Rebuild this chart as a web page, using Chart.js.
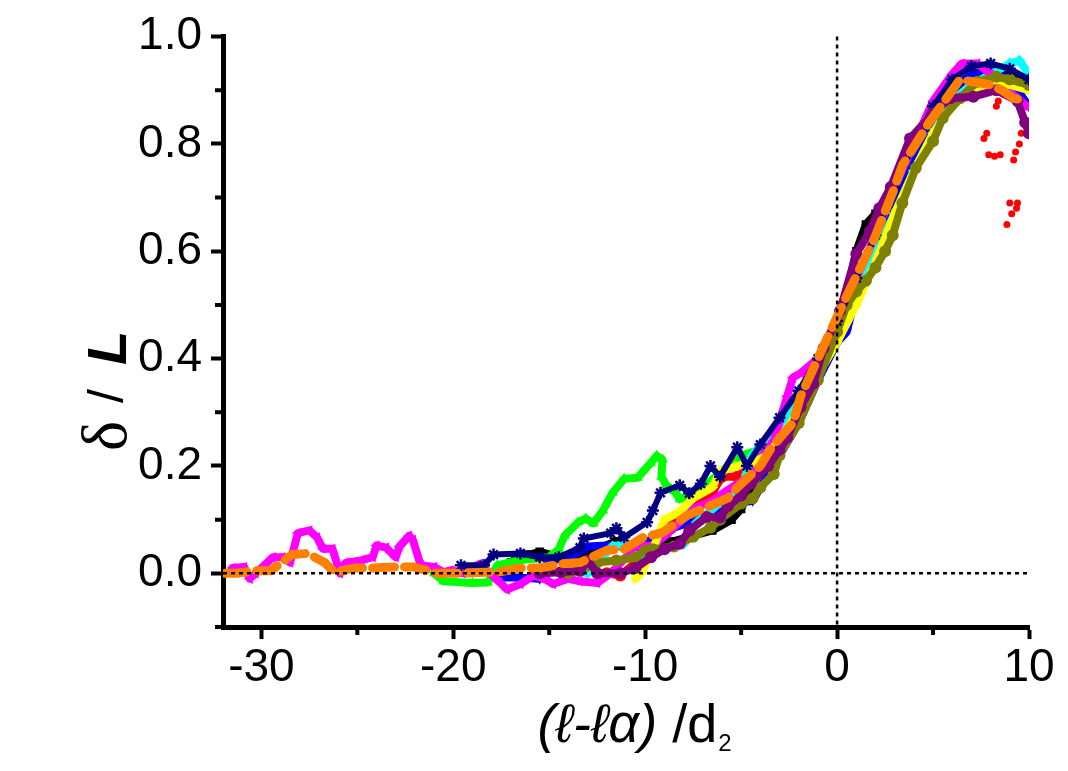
<!DOCTYPE html>
<html><head><meta charset="utf-8">
<script src="https://cdn.jsdelivr.net/npm/chart.js@4"></script>
<style>html,body{margin:0;padding:0;background:#fff;}canvas{display:block}</style>
</head><body>
<canvas id="c" width="1068" height="771" style="width:1068px;height:771px"></canvas>
<script>
// ---- axis / tick data ----
const xMin = -32, xMax = 10, yMin = -0.1, yMax = 1.0;
const xTicks = [-30, -20, -10, 0, 10];
const xMinorTicks = [-25, -15, -5, 5];
const yTicks = [0.0, 0.2, 0.4, 0.6, 0.8, 1.0];
const yMinorTicks = [-0.1, 0.1, 0.3, 0.5, 0.7, 0.9];
const refLineY = 0, refLineX = 0;

// ---- series values [x, y] ----
const blackPts = [[-17.5,0.0],[-17,0.02],[-16.5,0.035],[-16,0.035],[-15.5,0.04],[-14.5,0.03],[-13.5,0.035],[-12.5,0.045],[-11.5,0.06],[-10.5,0.05],[-9.5,0.06],[-8.5,0.06],[-7.5,0.07],[-6.5,0.08],[-5.5,0.1],[-5,0.12],[-4.5,0.16],[-4,0.19],[-3,0.24],[-2,0.3],[-1,0.37],[0,0.46],[0.5,0.52],[1,0.6],[1.5,0.65],[2,0.67],[3,0.72],[4,0.79],[5,0.85],[6,0.9],[7,0.93],[8,0.94],[9,0.93],[10,0.91]];
const redPts = [[-12,0.0],[-11.3,-0.004],[-10.5,0.02],[-9.5,0.06],[-8.5,0.095],[-7.5,0.12],[-6.5,0.15],[-6,0.18],[-5.2,0.18],[-4.5,0.2],[-4,0.22],[-3,0.26],[-2,0.32],[-1,0.39],[0,0.46],[1,0.54],[2,0.62],[3,0.7],[4,0.78],[5,0.85],[6,0.9],[7,0.93],[7.5,0.92]];
const redTailPts = [[8.4,0.88],[8.3,0.87],[7.8,0.82],[7.65,0.81],[7.9,0.78],[8.2,0.777],[8.5,0.78],[9.3,0.785],[9.2,0.77],[9.5,0.8],[9.6,0.82],[9.0,0.69],[9.4,0.69],[9.35,0.68],[9.1,0.67],[8.85,0.65]];
const greenPts = [[-21,0.0],[-20.5,-0.015],[-19,-0.018],[-18.2,-0.017],[-17.7,0.015],[-16.5,0.025],[-15,0.03],[-14.5,0.045],[-14.2,0.07],[-13.5,0.095],[-13.1,0.102],[-12.7,0.093],[-12.2,0.117],[-11.7,0.15],[-11.1,0.176],[-10.4,0.178],[-9.7,0.206],[-9.4,0.219],[-9.1,0.212],[-9.15,0.18],[-8.9,0.164],[-8.5,0.154],[-8.2,0.138],[-7.8,0.145],[-7,0.16],[-6,0.19],[-5,0.22],[-4,0.23],[-3,0.27],[-2,0.32],[-1,0.38],[0,0.44],[0.5,0.47],[1,0.52],[2,0.6],[3,0.68],[4,0.76],[5,0.83],[6,0.88],[7,0.9],[8,0.92],[9,0.91],[10,0.9]];
const bluePts = [[-17.7,-0.008],[-16.5,-0.008],[-15.5,-0.01],[-15,0.025],[-14,0.028],[-13,0.05],[-12,0.052],[-11,0.05],[-10,0.06],[-9.2,0.065],[-8.5,0.085],[-7,0.104],[-6,0.115],[-5.4,0.13],[-4.4,0.135],[-4,0.16],[-3,0.22],[-2,0.28],[-1,0.36],[0,0.43],[0.5,0.45],[1,0.52],[2,0.6],[3,0.69],[4,0.77],[5,0.85],[6,0.9],[7,0.93],[8,0.935],[9,0.92],[10,0.87]];
const cyanPts = [[-13.5,0.005],[-13,0.0],[-12.5,0.02],[-11.7,0.05],[-11,0.055],[-10.6,0.03],[-10,0.035],[-9,0.045],[-8,0.055],[-7.3,0.095],[-6.5,0.12],[-5.5,0.148],[-5,0.16],[-4.4,0.22],[-4,0.24],[-3,0.27],[-2,0.32],[-1,0.39],[0,0.45],[1,0.53],[2,0.6],[3,0.67],[4,0.75],[5,0.82],[6,0.88],[7,0.91],[8,0.93],[9,0.95],[9.5,0.955],[10,0.93]];
const magentaPts = [[-31.5,0.01],[-30.9,0.012],[-30.6,-0.01],[-30.3,0.0],[-29.4,0.03],[-28.9,0.03],[-28.5,0.02],[-28.1,0.075],[-27.5,0.08],[-27.1,0.067],[-26.8,0.046],[-26.3,0.046],[-25.9,0.0],[-25.6,0.02],[-24.8,0.024],[-24.2,0.03],[-24.0,0.052],[-23.5,0.048],[-23.0,0.03],[-22.8,0.05],[-22.3,0.07],[-22.1,0.062],[-21.7,0.015],[-21,0.012],[-20.5,0.002],[-20.1,0.006],[-19.5,0.0],[-18.6,0.018],[-18.1,0.0],[-17.6,-0.016],[-17.2,-0.03],[-16.5,-0.02],[-15.8,-0.004],[-15.1,-0.013],[-14.8,-0.02],[-14,-0.01],[-13.4,-0.015],[-12.5,-0.018],[-11.8,0.0],[-11,0.03],[-10.6,0.05],[-9.6,0.052],[-8.8,0.075],[-7.5,0.12],[-6.5,0.135],[-5.7,0.155],[-4.4,0.185],[-4,0.215],[-3.3,0.247],[-2.6,0.33],[-2.3,0.365],[-1.9,0.373],[-1,0.4],[0,0.46],[1,0.55],[2,0.63],[3,0.72],[4,0.8],[5,0.88],[6,0.93],[6.5,0.95],[7.3,0.95],[8,0.93],[8.9,0.9],[9.9,0.87]];
const yellowPts = [[-10.5,-0.01],[-10.2,0.0],[-9.6,0.045],[-9.0,0.1],[-8.2,0.115],[-7.5,0.14],[-6.5,0.16],[-6.1,0.19],[-5.2,0.2],[-4.5,0.205],[-3.6,0.22],[-3,0.25],[-2,0.3],[-1,0.37],[0,0.43],[1,0.5],[2,0.58],[3,0.67],[4,0.75],[5,0.82],[6,0.87],[7,0.9],[8,0.915],[9,0.91],[10,0.9]];
const olivePts = [[-14,0.0],[-13.4,0.005],[-12.5,0.02],[-11.5,0.024],[-10.5,0.03],[-10,0.042],[-9.6,0.045],[-8.5,0.05],[-7.5,0.068],[-6.6,0.085],[-6.1,0.1],[-5,0.13],[-4.4,0.14],[-4,0.16],[-3.3,0.185],[-3,0.22],[-2,0.28],[-1,0.36],[0,0.45],[0.5,0.5],[1,0.525],[1.5,0.545],[2,0.57],[2.5,0.6],[2.9,0.63],[3.4,0.69],[4.1,0.755],[5,0.805],[5.5,0.848],[6.4,0.885],[7.3,0.916],[8.3,0.925],[9,0.92],[10,0.91]];
const navyPts = [[-19.6,0.015],[-18.4,0.015],[-17.9,0.035],[-16.5,0.037],[-15.5,0.03],[-14.5,0.03],[-13.4,0.048],[-13.2,0.065],[-11.8,0.075],[-11.5,0.084],[-11.1,0.067],[-9.9,0.095],[-9.6,0.117],[-9.2,0.15],[-8.2,0.164],[-7.7,0.149],[-7.1,0.167],[-6.6,0.2],[-6.1,0.18],[-5.2,0.235],[-4.7,0.2],[-4,0.24],[-3,0.29],[-2,0.34],[-1,0.4],[0,0.47],[1,0.55],[2,0.63],[3,0.72],[4,0.8],[5,0.87],[6,0.92],[7,0.945],[8,0.95],[9,0.94],[10,0.92]];
const purplePts = [[-15.5,0.0],[-14.4,0.002],[-13.4,0.005],[-13,0.024],[-12.5,0.0],[-11.3,0.0],[-10.5,0.01],[-9.7,0.03],[-9,0.045],[-8.2,0.055],[-7.7,0.08],[-6.8,0.105],[-6.1,0.104],[-5.7,0.125],[-5,0.145],[-4.5,0.167],[-3.6,0.2],[-3,0.23],[-2.6,0.253],[-1.9,0.31],[-1.25,0.353],[-0.7,0.42],[0.15,0.489],[1,0.595],[1.7,0.637],[2.2,0.68],[2.8,0.72],[3.8,0.81],[5,0.857],[5.9,0.885],[7.1,0.888],[8.3,0.9],[9.4,0.88],[9.8,0.84],[10,0.82]];
const orangePts = [[-31.9,0.0],[-31.3,0.0],[-30.3,0.005],[-29.5,0.005],[-28.4,0.035],[-27.6,0.037],[-26.7,0.02],[-26.2,0.002],[-25.1,0.01],[-24.2,0.01],[-22.9,0.012],[-22.1,0.012],[-20.8,0.0],[-19.8,0.0],[-18.4,0.002],[-17.7,0.002],[-16.5,0.01],[-15.5,0.01],[-14.3,0.018],[-13.4,0.02],[-12,0.043],[-11.1,0.045],[-10.1,0.067],[-9.1,0.076],[-7.8,0.108],[-7.0,0.12],[-5.7,0.14],[-5.2,0.16],[-4,0.2],[-3.5,0.23],[-2.8,0.26],[-2.3,0.28],[-1.9,0.33],[-1,0.4],[-0.36,0.45],[0.68,0.53],[1.9,0.62],[2.9,0.71],[3.4,0.76],[4.8,0.84],[6.4,0.92],[8,0.91],[8.6,0.9],[9.2,0.885],[9.9,0.88]];

const toXY = arr => arr.map(p => ({x: p[0], y: p[1]}));

function series(pts, color, style, rot, extra) {
  return Object.assign({
    data: toXY(pts), showLine: true, borderColor: color, backgroundColor: color,
    borderWidth: 8, tension: 0, pointStyle: style, pointRotation: rot || 0,
    pointRadius: 6, pointBorderWidth: 0, pointBackgroundColor: color, pointBorderColor: color,
    borderCapStyle: 'round', borderJoinStyle: 'round'
  }, extra || {});
}

const list = [
  series(blackPts, '#000000', 'rect'),
  series(redPts, '#FF0000', 'circle'),
  series(redTailPts, '#FF0000', 'circle', 0, {showLine: false, pointRadius: 3.5}),
  series(greenPts, '#00FF00', 'triangle'),
  series(bluePts, '#0000FF', 'triangle', 180),
  series(cyanPts, '#00FFFF', 'rectRot'),
  series(magentaPts, '#FF00FF', 'triangle', 270),
  series(yellowPts, '#FFFF00', 'triangle', 90),
  series(olivePts, '#808000', 'circle'),
  series(navyPts, '#000080', 'star', 0, {borderWidth: 6, pointBorderWidth: 2.5, pointRadius: 6}),
  series(purplePts, '#800080', 'circle'),
  series(orangePts, '#FF8000', 'circle', 0, {borderWidth: 9, pointRadius: 0, borderDash: [22, 10]})
];
list.forEach((d, i) => { d.order = list.length - i; });

const overlay = {
  id: 'overlay',
  afterDatasetsDraw(chart) {
    const ctx = chart.ctx, xs = chart.scales.x, ys = chart.scales.y;
    ctx.save();
    ctx.strokeStyle = '#000'; ctx.lineWidth = 2.5; ctx.setLineDash([4, 4]);
    ctx.beginPath();
    ctx.moveTo(xs.getPixelForValue(xMin), ys.getPixelForValue(refLineY));
    ctx.lineTo(xs.getPixelForValue(xMax), ys.getPixelForValue(refLineY));
    ctx.moveTo(xs.getPixelForValue(refLineX), ys.getPixelForValue(yMax));
    ctx.lineTo(xs.getPixelForValue(refLineX), ys.getPixelForValue(yMin));
    ctx.stroke();
    ctx.restore();
  },
  afterDraw(chart) {
    const ctx = chart.ctx, xs = chart.scales.x, ys = chart.scales.y, a = chart.chartArea;
    ctx.save();
    ctx.strokeStyle = '#000'; ctx.lineWidth = 4;
    ctx.beginPath();
    xMinorTicks.forEach(v => { const p = xs.getPixelForValue(v); ctx.moveTo(p, a.bottom); ctx.lineTo(p, a.bottom + 8); });
    yMinorTicks.forEach(v => { const p = ys.getPixelForValue(v); ctx.moveTo(a.left, p); ctx.lineTo(a.left - 8, p); });
    ctx.stroke();
    ctx.fillStyle = '#000';
    // y title
    ctx.save();
    ctx.translate(126, 0);
    ctx.rotate(-Math.PI / 2);
    ctx.textAlign = 'center'; ctx.textBaseline = 'alphabetic';
    ctx.font = "64px 'Liberation Serif'";
    ctx.fillText('δ', -436, 0);
    ctx.font = "50px 'Liberation Sans'";
    ctx.fillText('/', -396, -3);
    ctx.font = "bold italic 56px 'Liberation Sans'";
    ctx.fillText('L', -348, 0);
    ctx.restore();
    // x title
    ctx.textBaseline = 'alphabetic'; ctx.textAlign = 'left';
    const part1 = '(ℓ-ℓα)', part2 = ' /d', sub = '2';
    const f1 = "italic 54px 'Liberation Sans'", f2 = "54px 'Liberation Sans'", f3 = "24px 'Liberation Sans'";
    ctx.font = f1; const w1 = ctx.measureText(part1).width;
    ctx.font = f2; const w2 = ctx.measureText(part2).width;
    ctx.font = f3; const w3 = ctx.measureText(sub).width;
    let x0 = 634 - (w1 + w2 + w3) / 2; const base = 742;
    ctx.font = f1; ctx.fillText(part1, x0, base); x0 += w1;
    ctx.font = f2; ctx.fillText(part2, x0, base); x0 += w2;
    ctx.font = f3; ctx.fillText(sub, x0 + 1, base + 9);
    ctx.restore();
  }
};

new Chart(document.getElementById('c'), {
  type: 'scatter',
  data: { datasets: list },
  options: {
    responsive: false, animation: false, devicePixelRatio: 1,
    layout: { padding: { top: 35, right: 39, left: 0, bottom: 0 } },
    plugins: { legend: { display: false }, tooltip: { enabled: false } },
    scales: {
      x: {
        type: 'linear', min: xMin, max: xMax,
        afterBuildTicks: s => { s.ticks = xTicks.map(v => ({ value: v })); },
        afterFit: s => { s.height = 144; },
        ticks: { font: { family: 'Liberation Sans', size: 46 }, color: '#000', padding: 2, maxRotation: 0, autoSkip: false, callback: v => String(v) },
        grid: { drawOnChartArea: false, drawTicks: true, tickLength: 12, tickWidth: 4, tickColor: '#000' },
        border: { display: true, width: 5, color: '#000' }
      },
      y: {
        type: 'linear', min: yMin, max: yMax,
        afterBuildTicks: s => { s.ticks = yTicks.map(v => ({ value: v })); },
        afterFit: s => { s.width = 223; },
        ticks: { font: { family: 'Liberation Sans', size: 46 }, color: '#000', padding: 9, autoSkip: false, callback: v => v.toFixed(1) },
        grid: { drawOnChartArea: false, drawTicks: true, tickLength: 12, tickWidth: 4, tickColor: '#000' },
        border: { display: true, width: 5, color: '#000' }
      }
    }
  },
  plugins: [overlay]
});
</script></body></html>
